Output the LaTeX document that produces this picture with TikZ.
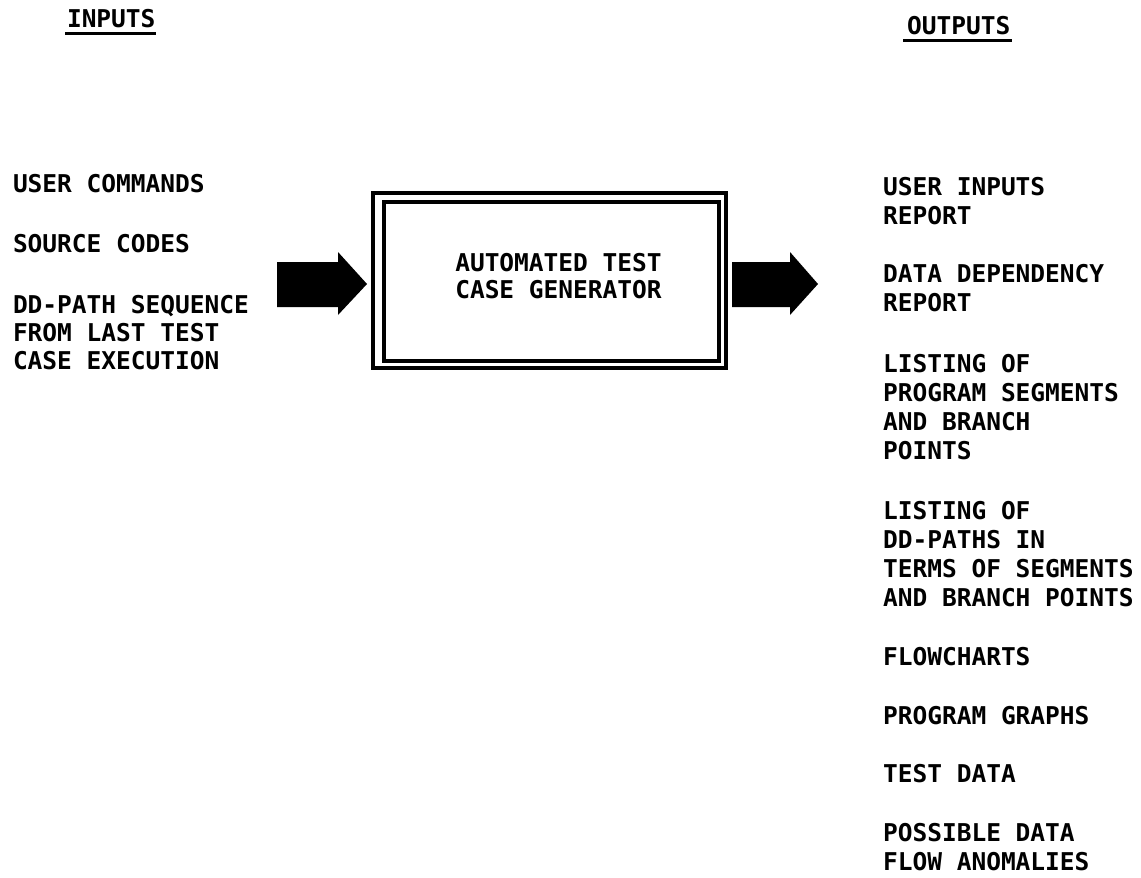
\documentclass[tikz,border=0pt]{standalone}
\usepackage{fontspec}
\newfontfamily\typo{DejaVu Sans Mono}
\newcommand\lblfontL{\typo\bfseries\fontsize{24.5pt}{28pt}\selectfont}
\newcommand\lblfontR{\typo\bfseries\fontsize{24.5pt}{29pt}\selectfont}
\newcommand\lblfontC{\typo\bfseries\fontsize{24.5pt}{27pt}\selectfont}
\tikzset{
  lblL/.style={font=\lblfontL, inner sep=0pt, outer sep=0pt, align=left, anchor=north west},
  lblR/.style={font=\lblfontR, inner sep=0pt, outer sep=0pt, align=left, anchor=north west},
  boxline/.style={draw=black, line width=3.5pt},
  uline/.style={draw=black, line width=2.5pt},
  blockarrow/.style={fill=black, draw=none}
}
\begin{document}
\begin{tikzpicture}[x=1pt,y=-1pt]
\useasboundingbox (0,0) rectangle (1141,878);
\fill[white] (0,0) rectangle (1141,878);

% headers
\node[lblL] (hin) at (67,9) {INPUTS};
\node[lblL] (hout) at (907,16) {OUTPUTS};
\draw[uline] ([xshift=-2pt,yshift=-6pt]hin.south west) -- ([yshift=-6pt]hin.south east);
\draw[uline] ([xshift=-4pt,yshift=-6pt]hout.south west) -- ([xshift=2pt,yshift=-6pt]hout.south east);

% inputs
\node[lblL] (in1) at (13,174) {USER COMMANDS};
\node[lblL] (in2) at (13,234) {SOURCE CODES};
\node[lblL] (in3) at (13,295) {DD-PATH SEQUENCE\\FROM LAST TEST\\CASE EXECUTION};

% central box
\node[inner sep=0pt, outer sep=0pt, minimum width=353pt, minimum height=175pt, boxline] (outer) at (549.5,280.5) {};
\node[inner sep=0pt, outer sep=0pt, minimum width=335pt, minimum height=159pt, boxline] (inner) at (551.5,281.5) {};
\node[font=\lblfontC, inner sep=0pt, align=center, anchor=north] (gen) at (558.5,253) {AUTOMATED TEST\\CASE GENERATOR};

% block arrows
\coordinate (la) at (277,284);
\coordinate (ra) at (732,284);
\fill[blockarrow] (la) ++(0,-22) -- ++(61,0) -- ++(0,-10) -- ++(29,32) -- ++(-29,31) -- ++(0,-8) -- ++(-61,0) -- cycle;
\fill[blockarrow] (ra) ++(0,-22) -- ++(58,0) -- ++(0,-10) -- ++(28,32) -- ++(-28,31) -- ++(0,-8) -- ++(-58,0) -- cycle;

% outputs
\node[lblR] (o1) at (883,177) {USER INPUTS\\REPORT};
\node[lblR] (o2) at (883,264) {DATA DEPENDENCY\\REPORT};
\node[lblR] (o3) at (883,354) {LISTING OF\\PROGRAM SEGMENTS\\AND BRANCH\\POINTS};
\node[lblR] (o4) at (883,501) {LISTING OF\\DD-PATHS IN\\TERMS OF SEGMENTS\\AND BRANCH POINTS};
\node[lblR] (o5) at (883,647) {FLOWCHARTS};
\node[lblR] (o6) at (883,706) {PROGRAM GRAPHS};
\node[lblR] (o7) at (883,764) {TEST DATA};
\node[lblR] (o8) at (883,823) {POSSIBLE DATA\\FLOW ANOMALIES};
\end{tikzpicture}
\end{document}
